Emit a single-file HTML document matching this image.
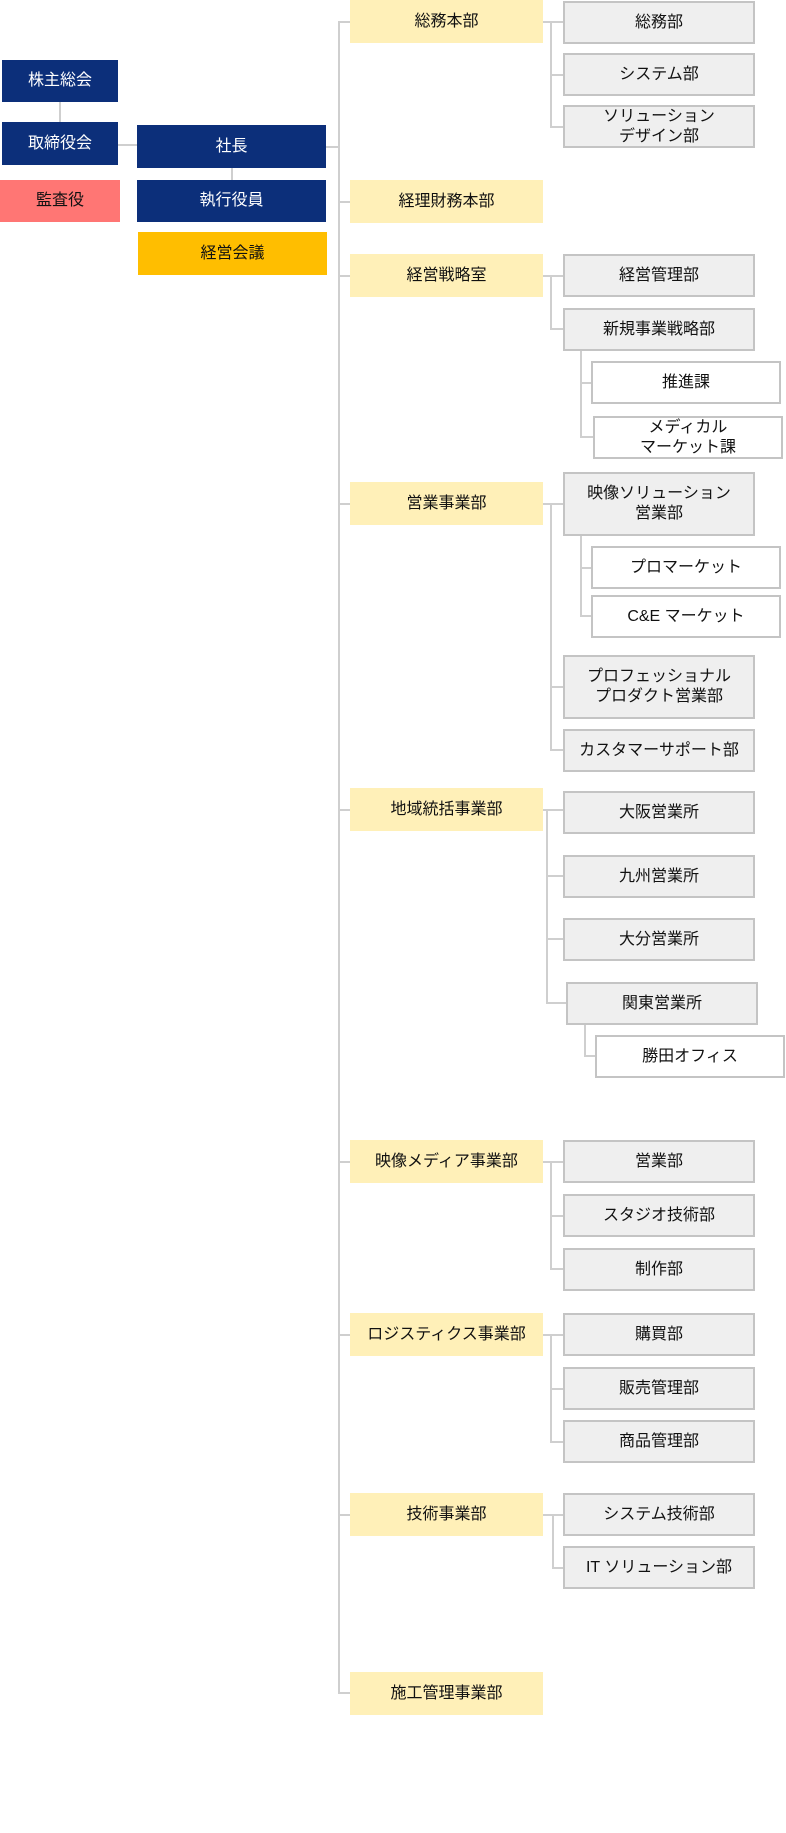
<!DOCTYPE html>
<html><head><meta charset="utf-8"><style>
body{margin:0;width:786px;height:1833px;position:relative;background:#fff;font-family:"Liberation Sans","Noto Sans CJK JP",sans-serif;overflow:hidden}
.b{position:absolute;display:flex;align-items:center;justify-content:center;text-align:center;font-size:16px;line-height:20px;box-sizing:border-box;color:#111}
.n{background:#0c2f7a;color:#fff}
.y{background:#fff0b8;left:350px;width:193px;height:43px}
.g{background:#efefef;border:2px solid #c4c4c4;left:563px;width:192px;height:43px}
.w{background:#fff;border:2px solid #c4c4c4;width:190px;height:43px}
.l{position:absolute;background:#cfcfcf}
</style></head><body>
<div class="l" style="left:59px;top:100px;width:2px;height:24px"></div>
<div class="l" style="left:118px;top:144px;width:20px;height:2px"></div>
<div class="l" style="left:231px;top:166px;width:2px;height:16px"></div>
<div class="l" style="left:326px;top:146px;width:14px;height:2px"></div>
<div class="b n" style="left:2px;top:60px;width:116px;height:42px">株主総会</div>
<div class="b n" style="left:2px;top:122px;width:116px;height:43px">取締役会</div>
<div class="b" style="left:0;top:180px;width:120px;height:42px;background:#ff7674">監査役</div>
<div class="b n" style="left:137px;top:125px;width:189px;height:43px">社長</div>
<div class="b n" style="left:137px;top:180px;width:189px;height:42px">執行役員</div>
<div class="b" style="left:138px;top:232px;width:189px;height:43px;background:#ffbe00">経営会議</div>
<div class="l" style="left:338px;top:21px;width:2px;height:1672px"></div>
<div class="l" style="left:338px;top:21px;width:12px;height:2px"></div>
<div class="l" style="left:338px;top:201px;width:12px;height:2px"></div>
<div class="l" style="left:338px;top:275px;width:12px;height:2px"></div>
<div class="l" style="left:338px;top:503px;width:12px;height:2px"></div>
<div class="l" style="left:338px;top:809px;width:12px;height:2px"></div>
<div class="l" style="left:338px;top:1161px;width:12px;height:2px"></div>
<div class="l" style="left:338px;top:1334px;width:12px;height:2px"></div>
<div class="l" style="left:338px;top:1514px;width:12px;height:2px"></div>
<div class="l" style="left:338px;top:1692px;width:12px;height:2px"></div>
<div class="l" style="left:543px;top:21px;width:23px;height:2px"></div>
<div class="l" style="left:550px;top:21px;width:2px;height:107px"></div>
<div class="l" style="left:550px;top:74px;width:16px;height:2px"></div>
<div class="l" style="left:550px;top:126px;width:16px;height:2px"></div>
<div class="l" style="left:543px;top:275px;width:23px;height:2px"></div>
<div class="l" style="left:550px;top:275px;width:2px;height:54px"></div>
<div class="l" style="left:550px;top:328px;width:16px;height:2px"></div>
<div class="l" style="left:580px;top:351px;width:2px;height:86px"></div>
<div class="l" style="left:580px;top:382px;width:12px;height:2px"></div>
<div class="l" style="left:580px;top:436px;width:14px;height:2px"></div>
<div class="l" style="left:543px;top:503px;width:23px;height:2px"></div>
<div class="l" style="left:550px;top:503px;width:2px;height:248px"></div>
<div class="l" style="left:550px;top:686px;width:16px;height:2px"></div>
<div class="l" style="left:550px;top:749px;width:16px;height:2px"></div>
<div class="l" style="left:580px;top:536px;width:2px;height:81px"></div>
<div class="l" style="left:580px;top:567px;width:12px;height:2px"></div>
<div class="l" style="left:580px;top:615px;width:12px;height:2px"></div>
<div class="l" style="left:543px;top:809px;width:23px;height:2px"></div>
<div class="l" style="left:546px;top:809px;width:2px;height:194px"></div>
<div class="l" style="left:546px;top:875px;width:20px;height:2px"></div>
<div class="l" style="left:546px;top:938px;width:20px;height:2px"></div>
<div class="l" style="left:546px;top:1002px;width:23px;height:2px"></div>
<div class="l" style="left:584px;top:1024px;width:2px;height:33px"></div>
<div class="l" style="left:584px;top:1055px;width:12px;height:2px"></div>
<div class="l" style="left:543px;top:1161px;width:23px;height:2px"></div>
<div class="l" style="left:550px;top:1161px;width:2px;height:109px"></div>
<div class="l" style="left:550px;top:1215px;width:16px;height:2px"></div>
<div class="l" style="left:550px;top:1268px;width:16px;height:2px"></div>
<div class="l" style="left:543px;top:1334px;width:23px;height:2px"></div>
<div class="l" style="left:550px;top:1334px;width:2px;height:108px"></div>
<div class="l" style="left:550px;top:1388px;width:16px;height:2px"></div>
<div class="l" style="left:550px;top:1441px;width:16px;height:2px"></div>
<div class="l" style="left:543px;top:1514px;width:23px;height:2px"></div>
<div class="l" style="left:552px;top:1514px;width:2px;height:55px"></div>
<div class="l" style="left:552px;top:1567px;width:14px;height:2px"></div>
<div class="b y" style="top:0">総務本部</div>
<div class="b y" style="top:180px">経理財務本部</div>
<div class="b y" style="top:254px">経営戦略室</div>
<div class="b y" style="top:482px">営業事業部</div>
<div class="b y" style="top:788px">地域統括事業部</div>
<div class="b y" style="top:1140px">映像メディア事業部</div>
<div class="b y" style="top:1313px">ロジスティクス事業部</div>
<div class="b y" style="top:1493px">技術事業部</div>
<div class="b y" style="top:1672px">施工管理事業部</div>
<div class="b g" style="top:1px">総務部</div>
<div class="b g" style="top:53px">システム部</div>
<div class="b g" style="top:105px">ソリューション<br>デザイン部</div>
<div class="b g" style="top:254px">経営管理部</div>
<div class="b g" style="top:308px">新規事業戦略部</div>
<div class="b w" style="left:591px;top:361px">推進課</div>
<div class="b w" style="left:593px;top:416px">メディカル<br>マーケット課</div>
<div class="b g" style="top:472px;height:64px">映像ソリューション<br>営業部</div>
<div class="b w" style="left:591px;top:546px">プロマーケット</div>
<div class="b w" style="left:591px;top:595px">C&amp;E マーケット</div>
<div class="b g" style="top:655px;height:64px">プロフェッショナル<br>プロダクト営業部</div>
<div class="b g" style="top:729px">カスタマーサポート部</div>
<div class="b g" style="top:791px">大阪営業所</div>
<div class="b g" style="top:855px">九州営業所</div>
<div class="b g" style="top:918px">大分営業所</div>
<div class="b g" style="left:566px;top:982px">関東営業所</div>
<div class="b w" style="left:595px;top:1035px">勝田オフィス</div>
<div class="b g" style="top:1140px">営業部</div>
<div class="b g" style="top:1194px">スタジオ技術部</div>
<div class="b g" style="top:1248px">制作部</div>
<div class="b g" style="top:1313px">購買部</div>
<div class="b g" style="top:1367px">販売管理部</div>
<div class="b g" style="top:1420px">商品管理部</div>
<div class="b g" style="top:1493px">システム技術部</div>
<div class="b g" style="top:1546px">IT ソリューション部</div>
</body></html>
